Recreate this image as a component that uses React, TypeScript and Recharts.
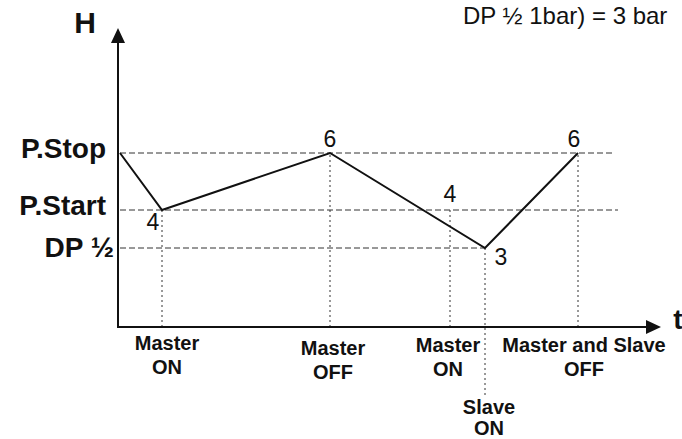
import React from "react";
import { LineChart, Line, XAxis, YAxis, ReferenceLine, ReferenceDot } from "recharts";

// pressure levels on the H axis
const levelNames = ["DP ½", "P.Start", "P.Stop"];
const levelValues = [7.9, 11.7, 17.4];
const levelEnds = [36.7, 50, 49.7];

// pressure curve
const pressureTimes = [0.2, 4.4, 21.2, 36.7, 46];
const pressureValues = [17.4, 11.7, 17.4, 7.9, 17.4];

// pump events
const eventTimes = [4.4, 21.2, 33.2, 36.7, 46];
const eventTop = [11.7, 17.4, 11.7, 7.9, 17.4];
const eventBottom = [0, 0, 0, -6.8, 0];
const eventNumbers = ["4", "6", "4", "3", "6"];
const eventLabels = [
  ["Master", "ON"],
  ["Master", "OFF"],
  ["Master", "ON"],
  ["Slave", "ON"],
  ["Master and Slave", "OFF"],
];

const data = pressureTimes.map((t, i) => ({ t, h: pressureValues[i] }));

const FONT = "'Liberation Sans', Arial, sans-serif";

// text placement tweaks (pixels)
const labelShift = [
  { dx: 5, dy: 0, gap: 24 },
  { dx: 3, dy: 5, gap: 24 },
  { dx: -2, dy: 2, gap: 24 },
  { dx: 4, dy: 64, gap: 21 },
  { dx: 6, dy: 2, gap: 24 },
];
const numberShift = [
  { dx: -9, dy: 20 },
  { dx: 0, dy: -6 },
  { dx: 0, dy: -8 },
  { dx: 16, dy: 17 },
  { dx: -4, dy: -6 },
];

const EventTick = (props: any) => {
  const { x, index } = props;
  const lines = eventLabels[index] || [];
  const s = labelShift[index] || { dx: 0, dy: 0, gap: 24 };
  return (
    <text
      x={x + s.dx}
      y={327 + s.dy}
      textAnchor="middle"
      fontFamily={FONT}
      fontWeight="bold"
      fontSize={20}
      fill="#111"
    >
      {lines.map((l, i) => (
        <tspan key={i} x={x + s.dx} dy={i === 0 ? 23 : s.gap}>
          {l}
        </tspan>
      ))}
    </text>
  );
};

const LevelTick = (props: any) => {
  const { y, index } = props;
  return (
    <text
      x={index === 0 ? 114 : 106}
      y={y + (index === 0 ? 9 : 5)}
      textAnchor="end"
      fontFamily={FONT}
      fontWeight="bold"
      fontSize={28}
      fill="#111"
    >
      {levelNames[index]}
    </text>
  );
};

const arrowX = (p: any) => (
  <g>
    <line x1={p.x1} y1={p.y1} x2={p.x2 - 10} y2={p.y2} stroke="#111" strokeWidth={2} />
    <polygon points={`${p.x2},${p.y2} ${p.x2 - 15},${p.y2 - 7} ${p.x2 - 15},${p.y2 + 7}`} fill="#111" />
  </g>
);

const arrowY = (p: any) => (
  <g>
    <line x1={p.x1} y1={p.y1 + 1} x2={p.x2} y2={p.y2 + 10} stroke="#111" strokeWidth={2} />
    <polygon points={`${p.x2},${p.y2} ${p.x2 - 7},${p.y2 + 15} ${p.x2 + 7},${p.y2 + 15}`} fill="#111" />
  </g>
);

export default function App() {
  return (
    <div style={{ position: "absolute", left: 0, top: 0, background: "#fff" }}>
      <LineChart
        width={682}
        height={439}
        data={data}
        margin={{ top: 28, right: 21, bottom: 12, left: 18 }}
      >
        <XAxis
          dataKey="t"
          type="number"
          domain={[0, 54.3]}
          ticks={eventTimes}
          interval={0}
          axisLine={false}
          tickLine={false}
          tickSize={0}
          height={100}
          tick={<EventTick />}
          allowDataOverflow
        />
        <YAxis
          type="number"
          domain={[0, 29.9]}
          ticks={levelValues}
          interval={0}
          axisLine={false}
          tickLine={false}
          width={100}
          tick={<LevelTick />}
          allowDataOverflow
        />

        {levelValues.map((v, i) => (
          <ReferenceLine
            key={`lvl-${i}`}
            segment={[{ x: 0.2, y: v }, { x: levelEnds[i], y: v }]}
            stroke="#333"
            strokeWidth={1}
            strokeDasharray="6 3"
            ifOverflow="visible"
          />
        ))}

        {eventTimes.map((t, i) => (
          <ReferenceLine
            key={`ev-${i}`}
            segment={[{ x: t, y: eventBottom[i] }, { x: t, y: eventTop[i] }]}
            stroke="#333"
            strokeWidth={1}
            strokeDasharray="2 3"
            ifOverflow="visible"
          />
        ))}

        <ReferenceLine segment={[{ x: 0, y: 0 }, { x: 54.3, y: 0 }]} shape={arrowX} ifOverflow="visible" />
        <ReferenceLine segment={[{ x: 0, y: 0 }, { x: 0, y: 29.9 }]} shape={arrowY} ifOverflow="visible" />

        <Line
          dataKey="h"
          type="linear"
          stroke="#111"
          strokeWidth={2}
          dot={false}
          isAnimationActive={false}
        />

        {eventTimes.map((t, i) => (
          <ReferenceDot
            key={`num-${i}`}
            x={t}
            y={eventTop[i]}
            ifOverflow="visible"
            shape={(p: any) => (
              <text
                x={p.cx + numberShift[i].dx}
                y={p.cy + numberShift[i].dy}
                textAnchor="middle"
                fontFamily={FONT}
                fontSize={23}
                fill="#111"
              >
                {eventNumbers[i]}
              </text>
            )}
          />
        ))}

        <text x={85} y={33} textAnchor="middle" fontFamily={FONT} fontWeight="bold" fontSize={30} fill="#111">
          H
        </text>
        <text x={678} y={329} textAnchor="middle" fontFamily={FONT} fontWeight="bold" fontSize={28} fill="#111">
          t
        </text>
        <text x={463} y={24} fontFamily={FONT} fontSize={24} fill="#111">
          DP ½ 1bar) = 3 bar
        </text>
      </LineChart>
    </div>
  );
}
